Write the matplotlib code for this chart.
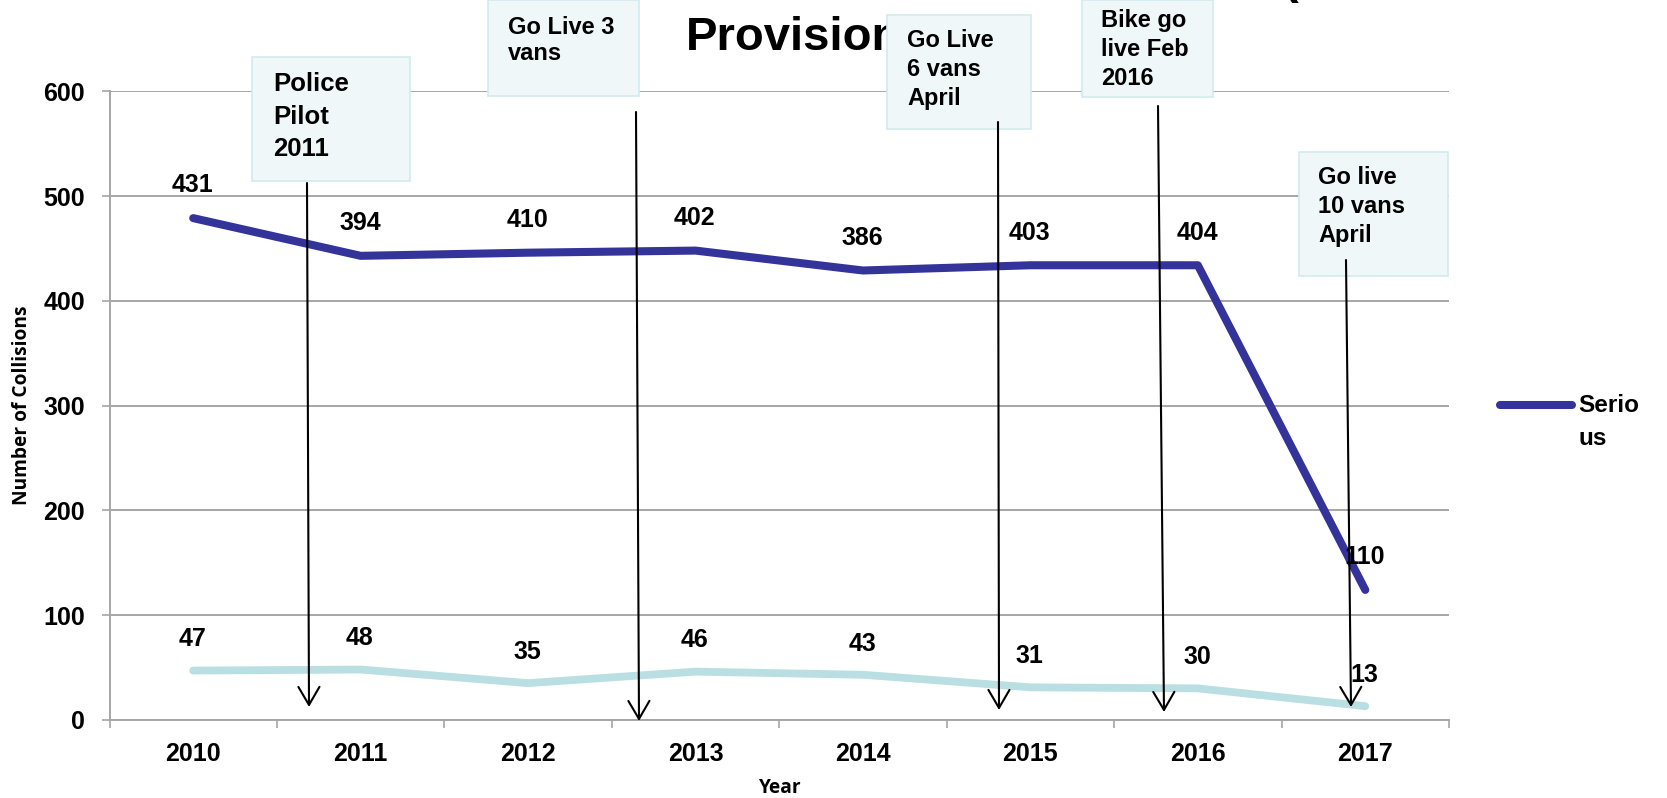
import matplotlib
matplotlib.use("Agg")
import matplotlib.pyplot as plt
from matplotlib.patches import Rectangle, FancyArrowPatch
from matplotlib.lines import Line2D

plt.rcParams['font.family'] = ['Liberation Sans', 'DejaVu Sans']
plt.rcParams['font.weight'] = 'bold'

# ---------------- data ----------------
years = ['2010', '2011', '2012', '2013', '2014', '2015', '2016', '2017']
serious_values = [479, 443, 446, 448, 429, 434, 434, 124]
serious_labels = [431, 394, 410, 402, 386, 403, 404, 110]
other_values = [47, 48, 35, 46, 43, 31, 30, 13]
other_labels = [47, 48, 35, 46, 43, 31, 30, 13]
yticks = [0, 100, 200, 300, 400, 500, 600]
legend_label = "Serio\nus"
title_text = "Provisional"

DARK = '#333399'
LIGHT = '#B9DFE2'
GRID = '#A6A6A6'

W, H = 1667, 798
fig = plt.figure(figsize=(W / 100, H / 100), dpi=100)

def fx(x):
    return x / W

def fy(y):
    return 1 - y / H

ax_l, ax_r, ax_t, ax_b = 109.5, 1449, 91.4, 719.8
ax = fig.add_axes([fx(ax_l), fy(ax_b), fx(ax_r - ax_l), (ax_b - ax_t) / H])

xs = list(range(len(years)))
ax.plot(xs, other_values, color=LIGHT, lw=5.6, solid_capstyle='round',
        solid_joinstyle='round', zorder=3)
ax.plot(xs, serious_values, color=DARK, lw=5.8, solid_capstyle='round',
        solid_joinstyle='round', zorder=4)

for xi, yv, lab in zip(xs, serious_values, serious_labels):
    ax.annotate(str(lab), (xi, yv), xytext=(-0.5, 23.5), textcoords='offset points',
                ha='center', va='center', fontsize=18, fontweight='bold', zorder=5)
for xi, yv, lab in zip(xs, other_values, other_labels):
    ax.annotate(str(lab), (xi, yv), xytext=(-0.5, 22.5), textcoords='offset points',
                ha='center', va='center', fontsize=18, fontweight='bold', zorder=5)

ax.set_xlim(-0.5, len(years) - 0.5)
ax.set_ylim(0, 600)
ax.set_yticks(yticks)
ax.set_yticklabels([str(t) for t in yticks], fontsize=18, fontweight='bold')
ax.set_xticks(xs)
ax.set_xticklabels(years, fontsize=18, fontweight='bold')
ax.set_xticks([i - 0.5 for i in range(len(years) + 1)], minor=True)
ax.tick_params(axis='x', which='major', length=0, pad=16)
ax.tick_params(axis='x', which='minor', length=5.5, width=1.2, color=GRID, direction='out')
ax.tick_params(axis='y', which='major', length=5.5, width=1.2, color=GRID, pad=12)
ax.yaxis.grid(True, color=GRID, lw=1.4)
ax.set_axisbelow(True)
for s in ['top', 'right']:
    ax.spines[s].set_visible(False)
for s in ['left', 'bottom']:
    ax.spines[s].set_color(GRID)
    ax.spines[s].set_linewidth(1.4)

lab_font = ['Open Sans', 'DejaVu Sans']
ax.set_ylabel('Number of Collisions', fontsize=13.8, fontweight='bold', family=lab_font)
ax.set_xlabel('Year', fontsize=13.8, fontweight='bold', family=lab_font)
ax.yaxis.set_label_coords((32 - ax_l) / (ax_r - ax_l), 0.5)
ax.xaxis.set_label_coords(0.5, -(778 - ax_b) / (ax_b - ax_t))

# title (partly hidden behind annotation boxes)
fig.text(fx(686), fy(50), title_text, fontsize=34, fontweight='bold',
         ha='left', va='baseline', zorder=1)
fig.text(fx(1283), fy(-7), '(', fontsize=34, fontweight='bold',
         ha='left', va='baseline', zorder=1)

# annotation boxes: (x0, y0, x1, y1), lines, text x, first baseline, spacing, fontsize
boxes = [
    ((252, 57, 410, 181), ["Police", "Pilot", "2011"], 273, 91, 32.5, 18.5),
    ((488, 0, 639, 96), ["Go Live 3", "vans"], 508, 34, 26, 17),
    ((887, 15, 1031, 129), ["Go Live", "6 vans", "April"], 907, 47, 29, 17),
    ((1082, 0, 1213, 97), ["Bike go", "live Feb", "2016"], 1101, 27, 29, 17),
    ((1299, 152, 1448, 276), ["Go live", "10 vans", "April"], 1318, 184, 29, 17),
]
for (x0, y0, x1, y1), lines, tx, ty, dy, fs in boxes:
    fig.add_artist(Rectangle((fx(x0), fy(y1)), fx(x1 - x0), (y1 - y0) / H,
                             transform=fig.transFigure, facecolor='#EFF7F8',
                             edgecolor='#D3EAEE', lw=1.2, zorder=5))
    for k, ln in enumerate(lines):
        fig.text(fx(tx), fy(ty + k * dy), ln, fontsize=fs, fontweight='bold',
                 ha='left', va='baseline', zorder=6)

# arrows: start (x, y), end (x, y) in pixels from top-left
arrows = [
    ((307, 183), (309, 707)),
    ((636, 112), (639, 721)),
    ((998, 122), (999, 710)),
    ((1158, 106), (1164, 712)),
    ((1346, 260), (1351, 707)),
]
for (sx, sy), (ex, ey) in arrows:
    fig.add_artist(FancyArrowPatch((fx(sx), fy(sy)), (fx(ex), fy(ey)),
                                   transform=fig.transFigure,
                                   arrowstyle='->,head_length=0.65,head_width=0.38',
                                   mutation_scale=20, lw=1.5, color='black',
                                   shrinkA=0, shrinkB=0, zorder=7))

# legend (only first entry visible)
fig.add_artist(Line2D([fx(1500), fx(1572)], [fy(405), fy(405)], transform=fig.transFigure,
                      color=DARK, lw=5.8, solid_capstyle='round', zorder=5))
leg_lines = legend_label.split("\n")
for k, ln in enumerate(leg_lines):
    fig.text(fx(1578), fy(412 + k * 33), ln, fontsize=17.5, fontweight='bold',
             ha='left', va='baseline', zorder=6)

fig.savefig('out.png', dpi=100)
